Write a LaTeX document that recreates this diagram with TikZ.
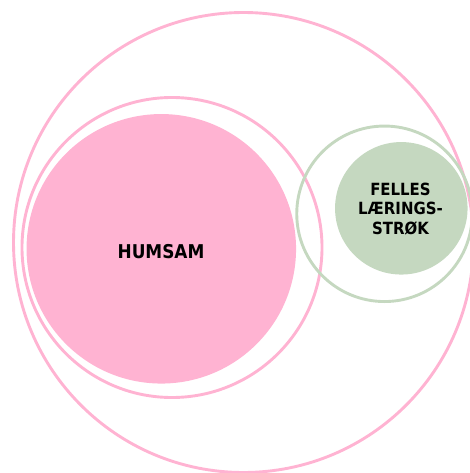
\documentclass[tikz,border=0pt]{standalone}
\usepackage{fontspec}
\setmainfont{DejaVu Sans}[BoldFont={DejaVu Sans Bold}, FakeStretch=0.89]
\definecolor{pinkc}{RGB}{255,179,210}
\definecolor{greenc}{RGB}{197,216,192}
\tikzset{
  ring/.style={circle, draw=#1, line width=2.9pt, fill=none, inner sep=0pt},
  disc/.style={circle, fill=#1, draw=none, inner sep=0pt, font=\bfseries, align=center},
}
\begin{document}
\begin{tikzpicture}[x=1pt,y=-1pt]
\useasboundingbox (0,0) rectangle (469,473);
\node[ring=pinkc, minimum size=460pt] (outer) at (243.5,242.5) {};
\node[ring=pinkc, minimum size=300pt] (mid) at (172,247.5) {};
\node[disc=pinkc, minimum size=269.5pt] (humsam) at (161.3,248.8) {};
\node[font=\bfseries\fontsize{19}{20}\selectfont] (humsamtxt) at (161,252) {HUMSAM};
\node[ring=greenc, minimum size=175.5pt] (gring) at (384.5,213.8) {};
\node[disc=greenc, minimum size=132.5pt] (gdisc) at (401.3,208.3) {};
\node[font=\bfseries\fontsize{16.8}{19.5}\selectfont, align=center] (gtxt) at (400.5,209) {FELLES\\LÆRINGS-\\STRØK};
\end{tikzpicture}
\end{document}
